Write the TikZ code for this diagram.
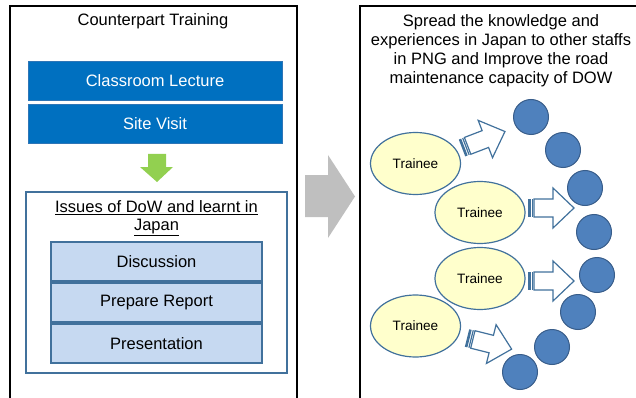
\documentclass[tikz,border=0pt]{standalone}
\usepackage{fontspec}
\setmainfont{Liberation Sans}
\usetikzlibrary{shapes.geometric}

\definecolor{lectureblue}{HTML}{0070C0}
\definecolor{lectureline}{HTML}{2E75B6}
\definecolor{boxline}{HTML}{41719C}
\definecolor{stepfill}{HTML}{C6D9F1}
\definecolor{traineefill}{HTML}{FFFFCC}
\definecolor{staffblue}{HTML}{4F81BD}
\definecolor{staffline}{HTML}{385D8A}
\definecolor{downgreen}{HTML}{92D050}
\definecolor{nextgray}{HTML}{BFBFBF}

\newcommand{\bigtext}{\fontsize{16.5}{19}\selectfont}

% striped block arrow: tail x, tail y, angle
\newcommand{\spreadarrow}[3]{%
  \begin{scope}[shift={(#1,#2)},rotate=#3]
    \fill[boxline] (0,-9) rectangle (2.6,9);
    \fill[boxline] (3.6,-9) rectangle (4.8,9);
    \draw[boxline,fill=white,line width=1.2pt] (6,-9) -- (25,-9) -- (25,-20) -- (46,0)
      -- (25,20) -- (25,9) -- (6,9) -- cycle;
  \end{scope}}

\begin{document}
\begin{tikzpicture}[x=1pt,y=-1pt,
    font=\bigtext,
    lecture/.style={rectangle,fill=lectureblue,draw=lectureline,line width=0.8pt,
      text=white,minimum width=254,minimum height=39,inner sep=0},
    stepbox/.style={rectangle,fill=stepfill,draw=boxline,line width=1.2pt,
      minimum width=211,minimum height=39,inner sep=0},
    trainee/.style={ellipse,fill=traineefill,draw=boxline,line width=1.2pt,
      minimum width=90,minimum height=62,inner sep=0,font=\fontsize{13.6}{16}\selectfont},
    staff/.style={circle,fill=staffblue,draw=staffline,line width=1pt,
      minimum size=35,inner sep=0}]

    \useasboundingbox (0,0) rectangle (636,398);

    % left panel
    \draw[line width=1.5pt] (10,6) rectangle (297,410);
    \node (title) at (153,21.5) {Counterpart Training};
    \node[lecture] (lecture) at (155,80.5) {Classroom Lecture};
    \node[lecture] (visit) at (155,124) {Site Visit};
    \fill[downgreen] (148,154) -- (166,154) -- (166,167) -- (173,167) -- (157,182)
      -- (140,167) -- (148,167) -- cycle;

    \node[draw=boxline,line width=1.2pt,minimum width=261,minimum height=181,inner sep=0]
      (issues) at (156.5,282.5) {};
    \node[align=center,font=\fontsize{16.5}{18}\selectfont] (issuestitle) at (156.5,218)
      {\underline{Issues of DoW and learnt in}\\\underline{Japan}};
    \node[stepbox] (discussion) at (156.5,261.5) {Discussion};
    \node[stepbox] (report) at (156.5,302.5) {Prepare Report};
    \node[stepbox] (presentation) at (156.5,343.5) {Presentation};

    % arrow between panels
    \fill[nextgray] (305,175) -- (328,175) -- (328,155) -- (355,196.5) -- (328,238)
      -- (328,217) -- (305,217) -- cycle;

    % right panel
    \draw[line width=1.5pt] (360,6) rectangle (650,410);
    \node[align=center] (spread) at (501,50.5)
      {Spread the knowledge and\\experiences in Japan to other staffs\\in PNG and Improve the road\\maintenance capacity of DOW};

    \node[trainee] (trainee1) at (415.5,163.5) {Trainee};
    \node[trainee] (trainee2) at (480,212.5) {Trainee};
    \node[trainee] (trainee3) at (480,278.5) {Trainee};
    \node[trainee] (trainee4) at (415.5,326) {Trainee};

    \node[staff] (staff1) at (531,117) {};
    \node[staff] (staff2) at (563,150) {};
    \node[staff] (staff3) at (585,188) {};
    \node[staff] (staff4) at (594,232) {};
    \node[staff] (staff5) at (597,275) {};
    \node[staff] (staff6) at (578,312) {};
    \node[staff] (staff7) at (552,347) {};
    \node[staff] (staff8) at (520,372) {};

    \spreadarrow{462}{148}{21}
    \spreadarrow{528}{208}{0}
    \spreadarrow{528}{281}{0}
    \spreadarrow{467}{338}{-14}

\end{tikzpicture}
\end{document}
